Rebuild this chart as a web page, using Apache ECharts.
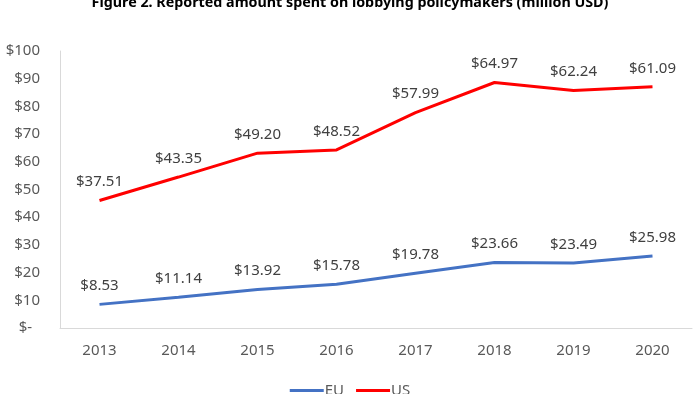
<!DOCTYPE html>
<html><head><meta charset="utf-8">
<script src="https://cdn.jsdelivr.net/npm/echarts@6/dist/echarts.min.js"></script>
<style>html,body{margin:0;padding:0;background:#fff}#c{width:700px;height:394px}</style>
</head><body><div id="c"></div>
<script>
const years = ['2013','2014','2015','2016','2017','2018','2019','2020'];
const euValues = [8.53, 11.14, 13.92, 15.78, 19.78, 23.66, 23.49, 25.98];
const usValues = [37.51, 43.35, 49.20, 48.52, 57.99, 64.97, 62.24, 61.09];
const seriesNames = ['EU', 'US'];
const titleText = 'Figure 2. Reported amount spent on lobbying policymakers (million USD)';

const FONT = 'Noto Sans';
const chart = echarts.init(document.getElementById('c'), null, {renderer: 'canvas'});
const lbl = {
  show: true, position: 'top', distance: 11,
  color: '#404040', fontFamily: FONT, fontSize: 15,
  formatter: p => '$' + p.value.toFixed(2)
};
chart.setOption({
  animation: false,
  title: {
    text: titleText, left: 'center', top: -9,
    textStyle: {fontFamily: FONT, fontSize: 14.3, fontWeight: 'bold', color: '#000'}
  },
  grid: {left: 60, right: 8, top: 51, bottom: 66, containLabel: false},
  legend: {
    data: seriesNames, bottom: -9, left: 'center', itemWidth: 34, itemHeight: 3, itemGap: 12,
    icon: 'rect',
    textStyle: {fontFamily: FONT, fontSize: 15, color: '#595959', padding: [2,0,0,-4]}
  },
  xAxis: {
    type: 'category', data: years, boundaryGap: true,
    axisLine: {lineStyle: {color: '#d9d9d9', width: 1}},
    axisTick: {show: false},
    axisLabel: {color: '#595959', fontFamily: FONT, fontSize: 15, margin: 15}
  },
  yAxis: {
    type: 'value', min: 0, max: 100, interval: 10,
    axisLine: {show: true, lineStyle: {color: '#d9d9d9', width: 1}},
    axisTick: {show: false},
    splitLine: {show: false},
    axisLabel: {
      color: '#595959', fontFamily: FONT, fontSize: 15, margin: 20,
      formatter: v => v === 0 ? '$-  ' : '$' + v
    }
  },
  series: [
    {name: seriesNames[0], type: 'line', stack: 'total', data: euValues,
     symbol: 'circle', symbolSize: 0.01, showSymbol: true,
     lineStyle: {color: '#4472C4', width: 3}, itemStyle: {color: '#4472C4'}, label: lbl},
    {name: seriesNames[1], type: 'line', stack: 'total', data: usValues,
     symbol: 'circle', symbolSize: 0.01, showSymbol: true,
     lineStyle: {color: '#FF0000', width: 3}, itemStyle: {color: '#FF0000'}, label: lbl}
  ]
});
</script></body></html>
